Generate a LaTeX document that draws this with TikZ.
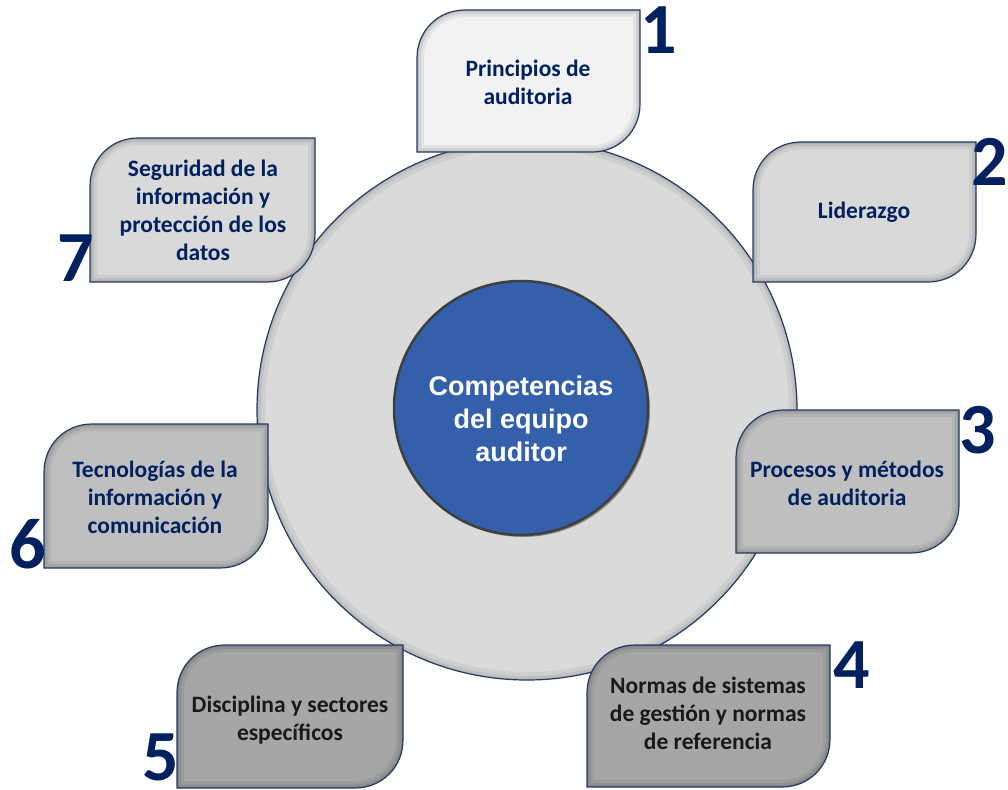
\documentclass[tikz,border=0pt]{standalone}
\usepackage{fontspec}
\setmainfont{Carlito}
\newfontfamily\arialfont{Liberation Sans}
\definecolor{navy}{RGB}{0,32,96}
\definecolor{edgeblue}{RGB}{38,58,100}
\definecolor{leafA}{HTML}{F2F2F2}
\definecolor{leafB}{HTML}{D9D9D9}
\definecolor{leafC}{HTML}{BFBFBF}
\definecolor{leafD}{HTML}{A6A6A6}
\definecolor{ringgray}{HTML}{DADADA}
\definecolor{coreblue}{RGB}{52,95,170}
\definecolor{coreedge}{HTML}{3F3F3F}
\tikzset{
  leaftext/.style={align=center, font=\fontsize{23.5}{28}\selectfont\bfseries, text=navy, inner sep=0pt},
  darktext/.style={leaftext, text=black!90},
  numtext/.style={font=\fontsize{72}{72}\selectfont\bfseries, text=navy, inner sep=0pt},
  leafedge/.style={draw=edgeblue, line width=1.2pt},
}
\newcommand{\leafpath}[4]{(#1,#4) -- (#1,#2+48) .. controls (#1,#2+21) and (#1+21,#2) .. (#1+48,#2) -- (#3,#2) -- (#3,#4-48) .. controls (#3,#4-21) and (#3-21,#4) .. (#3-48,#4) -- cycle}
\newcommand{\drawleaf}[5]{%
  \fill[#5] \leafpath{#1}{#2}{#3}{#4};
  \begin{scope}
    \clip \leafpath{#1}{#2}{#3}{#4};
    \draw[black, opacity=0.06, line width=14pt] \leafpath{#1}{#2}{#3}{#4};
    \draw[black, opacity=0.07, line width=8pt] \leafpath{#1}{#2}{#3}{#4};
    \draw[black, opacity=0.08, line width=3.5pt] \leafpath{#1}{#2}{#3}{#4};
  \end{scope}
  \draw[leafedge] \leafpath{#1}{#2}{#3}{#4};
}
\begin{document}
\begin{tikzpicture}[x=1pt, y=-1pt]
\useasboundingbox (0,0) rectangle (1008,789);
\fill[white] (0,0) rectangle (1008,789);
% outer ring
\fill[ringgray] (527,410) circle[radius=270pt];
\begin{scope}
  \clip (527,410) circle[radius=270pt];
  \draw[black, opacity=0.05, line width=16pt] (527,410) circle[radius=270pt];
  \draw[black, opacity=0.06, line width=8pt] (527,410) circle[radius=270pt];
  \draw[black, opacity=0.07, line width=3pt] (527,410) circle[radius=270pt];
\end{scope}
\draw[edgeblue, line width=1.2pt] (527,410) circle[radius=270pt];
% core
\fill[black, opacity=0.35] (523,410) circle[radius=127pt];
\node[circle, fill=coreblue, draw=coreedge, line width=2.5pt, minimum size=254pt, inner sep=0pt] (core) at (521,408) {};
\node[align=center, text=white, font=\arialfont\bfseries\fontsize{27}{33}\selectfont, inner sep=0pt] (coretext) at (521,419) {Competencias\\del equipo\\auditor};
% leaves
\drawleaf{417}{10}{640}{152}{leafA}
\drawleaf{753}{142}{976}{282}{leafB}
\drawleaf{736}{410}{959}{553}{leafC}
\drawleaf{587}{645}{830}{787}{leafD}
\drawleaf{177}{645}{403}{788}{leafD}
\drawleaf{44}{424}{268}{568}{leafC}
\drawleaf{90}{138}{315}{282}{leafB}
\node[leaftext] (t1) at (528,82) {Principios de\\auditoria};
\node[leaftext] (t2) at (864,212) {Liderazgo};
\node[leaftext] (t3) at (847,483) {Procesos y métodos\\de auditoria};
\node[darktext] (t4) at (708,713) {Normas de sistemas\\de gestión y normas\\de referencia};
\node[darktext] (t5) at (290,720) {Disciplina y sectores\\específicos};
\node[leaftext] (t6) at (155,497) {Tecnologías de la\\información y\\comunicación};
\node[leaftext] (t7) at (203,210) {Seguridad de la\\información y\\protección de los\\datos};
% numbers
\node[numtext] (n1) at (659,30) {1};
\node[numtext] (n2) at (990,162) {2};
\node[numtext] (n3) at (978,430) {3};
\node[numtext] (n4) at (852,665) {4};
\node[numtext] (n5) at (161,757) {5};
\node[numtext] (n6) at (28,544) {6};
\node[numtext] (n7) at (76,258) {7};
\end{tikzpicture}
\end{document}
